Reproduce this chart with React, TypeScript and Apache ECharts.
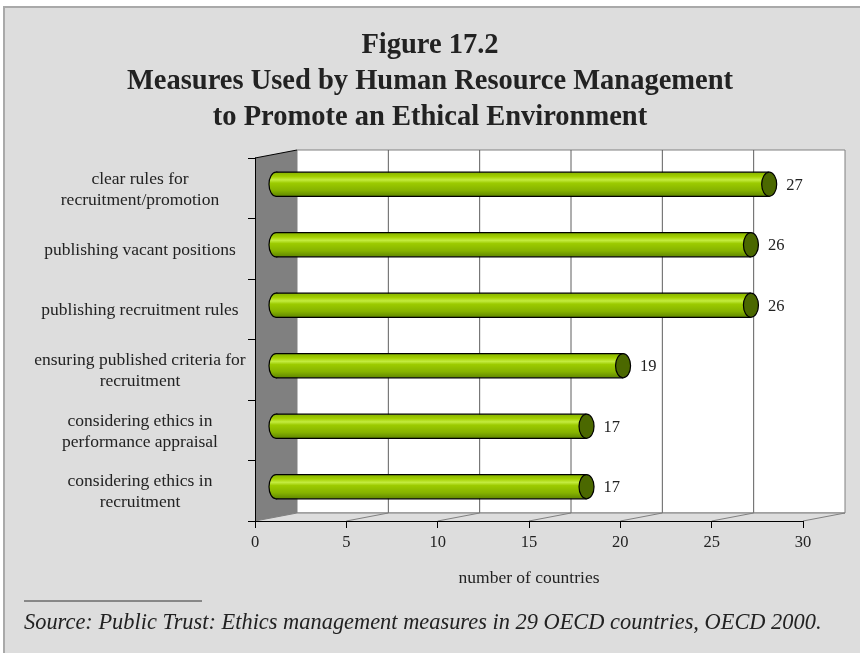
import React, { useEffect, useRef } from "react";
import * as echarts from "echarts";

const categories = [
  "clear rules for\nrecruitment/promotion",
  "publishing vacant positions",
  "publishing recruitment rules",
  "ensuring published criteria for\nrecruitment",
  "considering ethics in\nperformance appraisal",
  "considering ethics in\nrecruitment",
];
const values = [27, 26, 26, 19, 17, 17];
const xTicks = [0, 5, 10, 15, 20, 25, 30];
const titleLines = [
  "Figure 17.2",
  "Measures Used by Human Resource Management",
  "to Promote an Ethical Environment",
];
const xAxisName = "number of countries";
const sourceText =
  "Source: Public Trust: Ethics management measures in 29 OECD countries, OECD 2000.";

const DX = 42;
const DY = -8;
const FONT = "'Liberation Serif', 'DejaVu Serif', serif";

export default function App() {
  const ref = useRef<HTMLDivElement>(null);
  useEffect(() => {
    if (!ref.current) return;
    const chart = echarts.init(ref.current, null, { renderer: "svg" });

    const barGrad = new echarts.graphic.LinearGradient(0, 0, 0, 1, [
      { offset: 0, color: "#86b200" },
      { offset: 0.18, color: "#a4d000" },
      { offset: 0.32, color: "#c4ec40" },
      { offset: 0.45, color: "#9ccb00" },
      { offset: 0.75, color: "#86b300" },
      { offset: 1, color: "#5f8600" },
    ]);

    const option: any = {
      animation: false,
      backgroundColor: "transparent",
      title: {
        text: titleLines.join("\n"),
        left: "center",
        top: 20,
        textStyle: {
          fontFamily: FONT,
          fontWeight: "bold",
          fontSize: 28.5,
          lineHeight: 36,
          color: "#222",
        },
      },
      graphic: [
        {
          type: "rect",
          z: -10,
          shape: { x: 4, y: 7, width: 870, height: 670 },
          style: { fill: "#dddddd", stroke: "#a9a9a9", lineWidth: 2 },
        },
        {
          type: "line",
          shape: { x1: 24, y1: 601, x2: 202, y2: 601 },
          style: { stroke: "#333", lineWidth: 1 },
        },
        {
          type: "text",
          x: 24,
          y: 621,
          style: {
            text: sourceText,
            fontFamily: FONT,
            fontStyle: "italic",
            fontSize: 22.4,
            fill: "#222",
            verticalAlign: "middle",
          },
        },
      ],
      grid: { left: 255, right: 57, top: 158, bottom: 132, containLabel: false },
      xAxis: {
        type: "value",
        min: 0,
        max: 30,
        interval: 5,
        z: 10,
        axisLine: { show: true, lineStyle: { color: "#000", width: 1 } },
        axisTick: { show: true, length: 7, lineStyle: { color: "#000" } },
        splitLine: { show: false },
        axisLabel: {
          margin: 12,
          fontFamily: FONT,
          fontSize: 16.5,
          color: "#222",
        },
        name: xAxisName,
        nameLocation: "middle",
        nameGap: 47,
        nameTextStyle: { fontFamily: FONT, fontSize: 17.5, color: "#222" },
      },
      yAxis: {
        type: "category",
        data: categories,
        inverse: true,
        z: 10,
        axisLine: { show: true, lineStyle: { color: "#000", width: 1 } },
        axisTick: { show: true, length: 7, lineStyle: { color: "#000" } },
        splitLine: { show: false },
        axisLabel: {
          margin: 115,
          align: "center",
          fontFamily: FONT,
          fontSize: 17.5,
          lineHeight: 21,
          color: "#222",
        },
      },
      series: [
        {
          type: "custom",
          z: 1,
          silent: true,
          data: [[0, 0]],
          renderItem: (params: any, api: any) => {
            const cs = params.coordSys;
            const top = cs.y;
            const bottom = cs.y + cs.height;
            const xs = xTicks.map((t) => api.coord([t, 0])[0]);
            const xl = xs[0];
            const xr = xs[xs.length - 1];
            const children: any[] = [];
            children.push({
              type: "rect",
              shape: { x: xl + DX, y: top + DY, width: xr - xl, height: bottom - top },
              style: { fill: "#ffffff", stroke: "#808080", lineWidth: 1 },
            });
            xs.slice(1, -1).forEach((x) => {
              children.push({
                type: "line",
                shape: { x1: x + DX, y1: top + DY, x2: x + DX, y2: bottom + DY },
                style: { stroke: "#5e5e5e", lineWidth: 1 },
              });
            });
            children.push({
              type: "polygon",
              shape: {
                points: [
                  [xl, bottom],
                  [xr, bottom],
                  [xr + DX, bottom + DY],
                  [xl + DX, bottom + DY],
                ],
              },
              style: { fill: "#dddddd", stroke: "none" },
            });
            xs.forEach((x) => {
              children.push({
                type: "line",
                shape: { x1: x, y1: bottom, x2: x + DX, y2: bottom + DY },
                style: { stroke: "#808080", lineWidth: 1 },
              });
            });
            children.push({
              type: "line",
              shape: { x1: xl + DX, y1: bottom + DY, x2: xr + DX, y2: bottom + DY },
              style: { stroke: "#808080", lineWidth: 1 },
            });
            children.push({
              type: "polygon",
              shape: {
                points: [
                  [xl, top],
                  [xl + DX, top + DY],
                  [xl + DX, bottom + DY],
                  [xl, bottom],
                ],
              },
              style: { fill: "#808080", stroke: "none" },
            });
            children.push({
              type: "line",
              shape: { x1: xl, y1: top, x2: xl + DX, y2: top + DY },
              style: { stroke: "#000", lineWidth: 1 },
            });
            return { type: "group", children };
          },
        },
        {
          type: "custom",
          z: 3,
          silent: true,
          data: values.map((v, i) => [v, i]),
          encode: { x: 0, y: 1 },
          renderItem: (params: any, api: any) => {
            const v = api.value(0);
            const c = api.value(1);
            const p1 = api.coord([v, c]);
            const p0 = api.coord([0, c]);
            const band = api.size([0, 1])[1];
            const h = band * 0.4;
            const x0 = p0[0] + DX / 2;
            const x1 = p1[0] + DX / 2;
            const y = p1[1] + DY / 2;
            const rxL = 7;
            const rxR = 7.5;
            return {
              type: "group",
              children: [
                {
                  type: "ellipse",
                  shape: { cx: x0, cy: y, rx: rxL, ry: h / 2 },
                  style: { fill: barGrad, stroke: "#000", lineWidth: 1.2 },
                },
                {
                  type: "rect",
                  shape: { x: x0, y: y - h / 2, width: x1 - x0, height: h },
                  style: { fill: barGrad, stroke: "none" },
                },
                {
                  type: "line",
                  shape: { x1: x0, y1: y - h / 2, x2: x1, y2: y - h / 2 },
                  style: { stroke: "#000", lineWidth: 1.2 },
                },
                {
                  type: "line",
                  shape: { x1: x0, y1: y + h / 2, x2: x1, y2: y + h / 2 },
                  style: { stroke: "#000", lineWidth: 1.2 },
                },
                {
                  type: "ellipse",
                  shape: { cx: x1, cy: y, rx: rxR, ry: h / 2 },
                  style: { fill: "#4b6800", stroke: "#000", lineWidth: 1.2 },
                },
                {
                  type: "text",
                  x: x1 + 17,
                  y: y,
                  style: {
                    text: String(v),
                    fontFamily: FONT,
                    fontSize: 16.5,
                    fill: "#222",
                    verticalAlign: "middle",
                    align: "left",
                  },
                },
              ],
            };
          },
        },
      ],
    };

    chart.setOption(option);
    return () => chart.dispose();
  }, []);

  return (
    <div
      ref={ref}
      style={{ position: "fixed", left: 0, top: 0, width: 860, height: 653 }}
    />
  );
}
